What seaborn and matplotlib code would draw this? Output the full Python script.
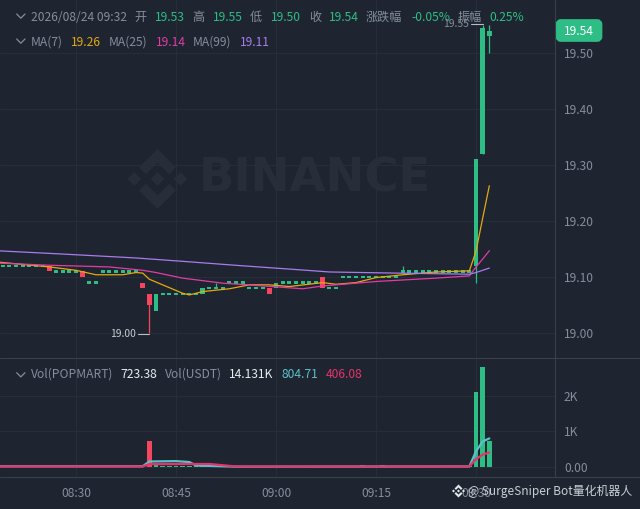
import matplotlib
matplotlib.use('Agg')
import matplotlib.pyplot as plt
import numpy as np
import pandas as pd
import seaborn as sns
from matplotlib.patches import FancyBboxPatch, Polygon

# minutes relative to 08:30
minutes = list(range(-11, 63))

opens = [19.12] * 7 + [19.12] + [19.11] * 4 + [19.11] + [19.09] * 2 + [19.11] * 6 + [19.09, 19.07, 19.04] \
    + [19.07] * 6 + [19.07] + [19.08] * 3 + [19.09] * 3 + [19.08] * 3 + [19.08, 19.08] + [19.09] * 6 \
    + [19.10] + [19.08] * 2 + [19.10] * 9 + [19.11] + [19.11] * 10 + [19.12, 19.32, 19.53]
closes = [19.12] * 7 + [19.11] + [19.11] * 4 + [19.10] + [19.09] * 2 + [19.11] * 6 + [19.08, 19.05, 19.07] \
    + [19.07] * 6 + [19.08] + [19.08] * 3 + [19.09] * 3 + [19.08] * 3 + [19.07, 19.09] + [19.09] * 6 \
    + [19.08] + [19.08] * 2 + [19.10] * 9 + [19.11] + [19.11] * 10 + [19.31, 19.545, 19.54]
volumes = [18, 15, 20, 14, 16, 22, 18, 40, 16, 14, 18, 35, 20, 24, 18, 16, 14, 18, 20, 16, 22, 50, 720, 60,
           22, 26, 20, 18, 16, 30, 28, 18, 16, 14, 20, 18, 16, 14, 18, 15, 22, 20, 18, 16, 15, 14, 18, 16,
           40, 22, 18, 16, 14, 16, 60, 18, 22, 45, 20, 18, 16, 15, 14, 18, 16, 15, 14, 16, 18, 20, 16, 2120, 2820, 723]

wick_minutes = [11, 21, 49, 60, 61, 62]
wick_highs = [19.07, 19.09, 19.12, 19.31, 19.55, 19.55]
wick_lows = [19.00, 19.08, 19.11, 19.09, 19.32, 19.50]

ma7_x = [-12, -4, 0, 3, 7, 9, 10, 11, 16, 17, 19, 23, 26, 29, 32, 37, 39, 42, 45, 49, 54, 59, 60, 61, 62]
ma7_y = [19.127, 19.118, 19.112, 19.104, 19.104, 19.108, 19.107, 19.096, 19.071, 19.068, 19.074, 19.079,
         19.086, 19.086, 19.083, 19.090, 19.087, 19.090, 19.099, 19.104, 19.109, 19.111, 19.146, 19.205, 19.263]
ma25_x = [-12, -4, 5, 10, 12, 16, 22, 27, 34, 37, 45, 54, 59, 60, 61, 62]
ma25_y = [19.125, 19.121, 19.118, 19.112, 19.108, 19.098, 19.089, 19.085, 19.079, 19.084, 19.092, 19.098,
          19.102, 19.118, 19.132, 19.147]
ma99_x = [-12, -2, 9, 16, 25, 34, 38, 48, 59, 60, 61, 62]
ma99_y = [19.147, 19.141, 19.134, 19.128, 19.120, 19.1125, 19.109, 19.107, 19.105, 19.108, 19.112, 19.116]

vol_ma5_x = [-12, 10, 11, 15, 17, 18, 24, 59, 60, 61, 62]
vol_ma5_y = [20, 20, 155, 165, 140, 40, 10, 15, 440, 720, 805]
vol_ma10_x = [-12, 10, 11, 20, 24, 59, 60, 61, 62]
vol_ma10_y = [15, 15, 80, 85, 15, 15, 220, 350, 406]

price_ticks = [19.00, 19.10, 19.20, 19.30, 19.40, 19.50]
vol_ticks = [0, 1000, 2000]
vol_labels = ['0.00', '1K', '2K']
time_ticks = [0, 15, 30, 45, 60]
time_labels = ['08:30', '08:45', '09:00', '09:15', '09:30']

BG = '#1E2530'
GRID = '#272E39'
EDGE = '#39404A'
UP = '#2EBD85'
DOWN = '#F6465D'
GRAY = '#848E9C'
WHITE = '#EAECEF'

sns.set_theme(style='dark', rc={'axes.facecolor': 'none', 'figure.facecolor': BG})
plt.rcParams['font.family'] = ['Noto Sans CJK SC', 'DejaVu Sans']

W, H = 640, 509
fig = plt.figure(figsize=(W / 100, H / 100), dpi=100)


def axes_px(x0, y0, x1, y1, zorder):
    return fig.add_axes([x0 / W, 1 - y1 / H, (x1 - x0) / W, (y1 - y0) / H], zorder=zorder)


back = axes_px(0, 0, W, H, 0)
price = axes_px(0, 0, 555, 358, 1)
vol = axes_px(0, 358, 555, 477, 1)
front = axes_px(0, 0, W, H, 2)
for a in (back, front):
    a.set_xlim(0, W)
    a.set_ylim(H, 0)
    a.axis('off')

df = pd.DataFrame({'minute': minutes, 'open': opens, 'close': closes, 'volume': volumes})
df['side'] = np.where(df['close'] >= df['open'], 'up', 'down')
colors = df['side'].map({'up': UP, 'down': DOWN})

# candles, flat ones still get a thin dash
heights = (df['close'] - df['open']).abs().clip(lower=0.0042)
lows = df[['open', 'close']].min(axis=1)
flat = df['open'] == df['close']
lows = lows.where(~flat, df['open'] - 0.0021)
widths = np.where(flat, 0.6, 0.72)
wick_colors = [colors[minutes.index(m)] for m in wick_minutes]
price.vlines(wick_minutes, wick_lows, wick_highs, colors=wick_colors, lw=0.9, zorder=1)
price.bar(df['minute'], heights, bottom=lows, width=widths, color=colors, lw=0, zorder=1.5)

sns.lineplot(x=ma7_x, y=ma7_y, color='#E5A90E', lw=0.9, errorbar=None, ax=price, zorder=3)
sns.lineplot(x=ma25_x, y=ma25_y, color='#E33BA6', lw=0.9, errorbar=None, ax=price, zorder=3)
sns.lineplot(x=ma99_x, y=ma99_y, color='#A97BEF', lw=0.9, errorbar=None, ax=price, zorder=3)

sns.barplot(data=df, x='minute', y='volume', hue='side', palette={'up': UP, 'down': DOWN}, native_scale=True,
            dodge=False, width=0.72, saturation=1, edgecolor='none', linewidth=0, legend=False, ax=vol, zorder=1.5)
sns.lineplot(x=vol_ma5_x, y=vol_ma5_y, color='#5CC0CC', lw=1.6, errorbar=None, ax=vol, zorder=3)
sns.lineplot(x=vol_ma10_x, y=vol_ma10_y, color='#E5336B', lw=1.6, errorbar=None, ax=vol, zorder=3)

x_range = (-11.4, 71.85)
price.set_xlim(*x_range)
price.set_ylim(18.9554, 19.5946)
vol.set_xlim(*x_range)
vol.set_ylim(-282, 3070)

for ax in (price, vol):
    ax.set_xlabel('')
    ax.set_ylabel('')
    ax.set_xticks(time_ticks)
    ax.yaxis.tick_right()
    ax.grid(True, color=GRID, lw=0.8)
    ax.set_axisbelow(True)
    for s in ax.spines.values():
        s.set_visible(False)

price.set_yticks(price_ticks)
price.set_yticklabels([f'{v:.2f}' for v in price_ticks])
price.tick_params(axis='x', length=0, labelbottom=False)
price.tick_params(axis='y', length=0, pad=6.5, labelsize=8.6, labelcolor=GRAY)
vol.set_yticks(vol_ticks)
vol.set_yticklabels(vol_labels)
vol.set_xticklabels(time_labels)
vol.tick_params(axis='x', length=0, pad=7, labelsize=8.6, labelcolor=GRAY)
vol.tick_params(axis='y', length=0, pad=6.5, labelsize=8.6, labelcolor=GRAY)

# frame lines
front.plot([555, 555], [0, 477], color=EDGE, lw=0.8)
front.plot([0, W], [358, 358], color=EDGE, lw=0.8)
front.plot([0, W], [477, 477], color=EDGE, lw=0.8)


def logo(ax, cx, cy, r, color, zorder=1):
    shapes = [
        [(-.388, .16), (0, .548), (.388, .16), (.614, .386), (0, 1), (-.614, .386)],
        [(-.388, -.16), (0, -.548), (.388, -.16), (.614, -.386), (0, -1), (-.614, -.386)],
        [(-.229, 0), (0, .229), (.229, 0), (0, -.229)],
        [(-1, 0), (-.771, .229), (-.542, 0), (-.771, -.229)],
        [(1, 0), (.771, .229), (.542, 0), (.771, -.229)],
    ]
    for s in shapes:
        pts = [(cx + px * r, cy - py * r) for px, py in s]
        ax.add_patch(Polygon(pts, closed=True, fc=color, ec='none', zorder=zorder))


logo(back, 157.5, 179, 30, '#282E39')
back.text(199, 179, 'BINANCE', color='#282E39', fontsize=33.5, fontweight='bold', family='DejaVu Sans',
          va='center', ha='left')


def chevron(y):
    front.plot([16.7, 20.8, 25], [y, y + 4.2, y], color=GRAY, lw=0.9)


chevron(14)
chevron(39)
chevron(372.7)

header = [(31, 17, '2026/08/24 09:32', GRAY), (134, 17, '开', GRAY), (155, 17, '19.53', UP), (192, 17, '高', GRAY),
          (213, 17, '19.55', UP), (250, 17, '低', GRAY), (271, 17, '19.50', UP), (309, 17, '收', GRAY),
          (329, 17, '19.54', UP), (366, 17, '涨跌幅', GRAY), (411, 17, '-0.05%', UP), (458, 17, '振幅', GRAY),
          (489, 17, '0.25%', UP),
          (31, 42.5, 'MA(7)', GRAY), (71, 42.5, '19.26', '#E5A90E'), (109, 42.5, 'MA(25)', GRAY),
          (156, 42.5, '19.14', '#E33BA6'), (193, 42.5, 'MA(99)', GRAY), (240, 42.5, '19.11', '#A97BEF'),
          (31, 374, 'Vol(POPMART)', GRAY), (120, 374, '723.38', WHITE), (165, 374, 'Vol(USDT)', GRAY),
          (229, 374, '14.131K', WHITE), (281, 374, '804.71', '#5CC0CC'), (326, 374, '406.08', '#E5336B')]
for x, y, s, c in header:
    front.text(x, y, s, color=c, fontsize=8.7, va='center', ha='left')

# high and low markers
front.text(443, 24, '19.55', color=GRAY, fontsize=7.4, va='center', ha='left')
front.plot([470.5, 483], [24, 24], color='#B7BDC6', lw=0.8)
front.text(110, 334, '19.00', color='#C9CDD3', fontsize=7.4, va='center', ha='left')
front.plot([138, 149], [333.5, 333.5], color='#B7BDC6', lw=0.8)

# last price tag
front.add_patch(FancyBboxPatch((558, 21.5), 42, 18, boxstyle='round,pad=0,rounding_size=3', fc=UP, ec=UP, lw=3.4))
front.text(579, 31, '19.54', color='white', fontsize=8.7, va='center', ha='center')

# share watermark
logo(front, 458.5, 491, 6.5, '#E4E6EA', zorder=4)
front.text(468, 491, '@ SurgeSniper Bot量化机器人', color='#C9CDD3', fontsize=8.6, va='center', ha='left', zorder=4)

fig.savefig('out.png', dpi=100, facecolor=BG)
